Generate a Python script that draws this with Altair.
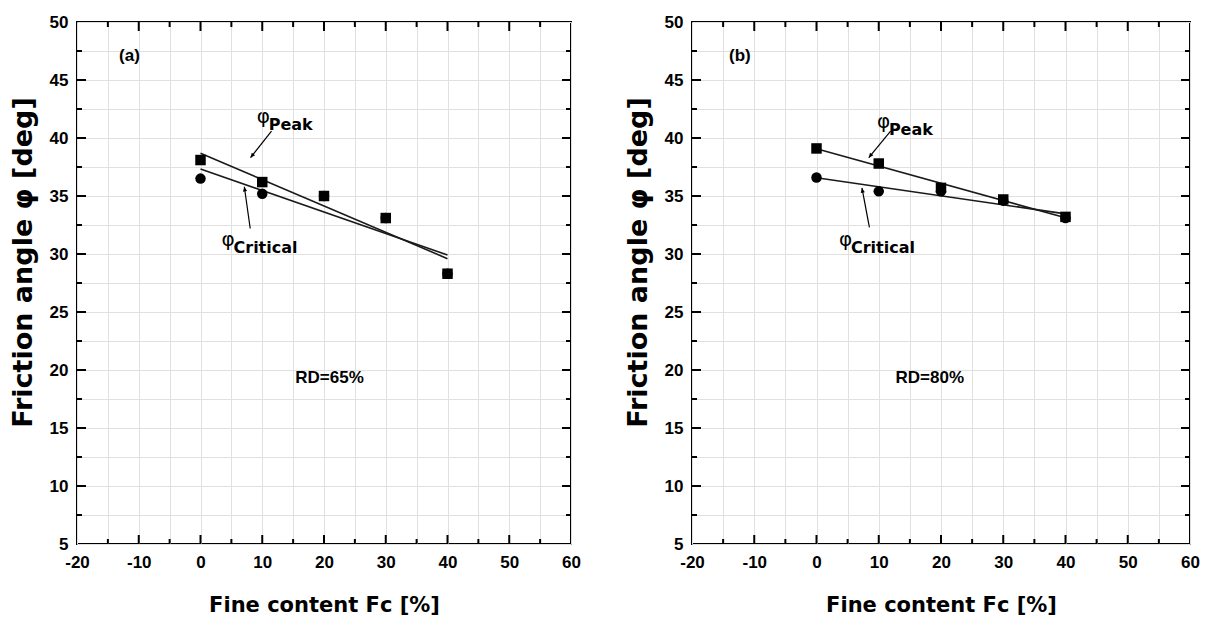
import altair as alt
import pandas as pd

# ---- data ----
fine_content = [0, 10, 20, 30, 40]
peak_a = [38.1, 36.2, 35.0, 33.1, 28.3]
critical_a = [36.5, 35.2, 35.0, 33.1, 28.3]
peak_b = [39.1, 37.8, 35.7, 34.7, 33.2]
critical_b = [36.6, 35.4, 35.4, 34.6, 33.1]

x_grid = list(range(-20, 61, 5))
y_grid = [5 + 2.5 * i for i in range(19)]
x_major_in = [v for v in x_grid if v % 10 == 0 and -20 < v < 60]
x_minor_in = [v for v in x_grid if v % 10 != 0]
y_major_in = [v for v in y_grid if v % 5 == 0 and 5 < v < 50]
y_minor_in = [v for v in y_grid if v % 5 != 0]

LABEL_FONT = "Liberation Sans"
TITLE_FONT = "DejaVu Sans"
ANN_FONT = "DejaVu Sans"


def panel(peak, crit, tag, tag_xy, rd, rd_xy, phi_peak, phi_crit, arrow_peak, arrow_crit, w, h):
    df = pd.DataFrame({"fc": fine_content, "peak": peak, "crit": crit})
    xs = alt.Scale(domain=[-20, 60], nice=False, zero=False)
    ys = alt.Scale(domain=[5, 50], nice=False, zero=False)
    xaxis = alt.Axis(
        values=x_grid, labelExpr="datum.value % 10 == 0 ? toString(datum.value) : ''",
        grid=True, gridColor="#e0e0e0", gridWidth=1, tickSize=0, domain=False,
        labelFont=LABEL_FONT, labelFontSize=17, labelFontWeight="bold", labelColor="black",
        labelPadding=10, labelFlush=False, labelOverlap=False,
        title="Fine content Fc [%]", titleFont=TITLE_FONT, titleFontSize=21,
        titleFontWeight="bold", titleColor="black", titlePadding=24,
    )
    yaxis = alt.Axis(
        values=y_grid, labelExpr="datum.value % 5 == 0 ? toString(datum.value) : ''",
        grid=True, gridColor="#e0e0e0", gridWidth=1, tickSize=0, domain=False,
        labelFont=LABEL_FONT, labelFontSize=17, labelFontWeight="bold", labelColor="black",
        labelPadding=9, labelFlush=False, labelOverlap=False,
        title="Friction angle φ [deg]", titleFont=TITLE_FONT, titleFontSize=27,
        titleFontWeight="bold", titleColor="black", titlePadding=12, titleY=240,
    )

    def X(f):
        return alt.X(f, type="quantitative", scale=xs, axis=xaxis)

    def Y(f):
        return alt.Y(f, type="quantitative", scale=ys, axis=yaxis)

    base = alt.Chart(df)
    line_p = base.transform_regression("fc", "peak").mark_line(color="#1a1a1a", strokeWidth=1.6).encode(x=X("fc"), y=Y("peak"))
    line_c = base.transform_regression("fc", "crit").mark_line(color="#1a1a1a", strokeWidth=1.6).encode(x=X("fc"), y=Y("crit"))
    circ = base.mark_point(shape="circle", filled=True, size=110, color="black", opacity=1).encode(x=X("fc"), y=Y("crit"))
    sq = base.mark_point(shape="square", filled=True, size=110, color="black", opacity=1).encode(x=X("fc"), y=Y("peak"))

    xmaj = alt.Chart(pd.DataFrame({"v": x_major_in}))
    xmin = alt.Chart(pd.DataFrame({"v": x_minor_in}))
    ymaj = alt.Chart(pd.DataFrame({"v": y_major_in}))
    ymin = alt.Chart(pd.DataFrame({"v": y_minor_in}))
    tk = dict(color="black", strokeWidth=2)
    ticks = [
        xmaj.mark_rule(**tk).encode(x=X("v"), y=alt.value(h), y2=alt.value(h - 9)),
        xmaj.mark_rule(**tk).encode(x=X("v"), y=alt.value(0), y2=alt.value(9)),
        xmin.mark_rule(**tk).encode(x=X("v"), y=alt.value(h), y2=alt.value(h - 5)),
        xmin.mark_rule(**tk).encode(x=X("v"), y=alt.value(0), y2=alt.value(5)),
        ymaj.mark_rule(**tk).encode(y=Y("v"), x=alt.value(0), x2=alt.value(9)),
        ymaj.mark_rule(**tk).encode(y=Y("v"), x=alt.value(w), x2=alt.value(w - 9)),
        ymin.mark_rule(**tk).encode(y=Y("v"), x=alt.value(0), x2=alt.value(5)),
        ymin.mark_rule(**tk).encode(y=Y("v"), x=alt.value(w), x2=alt.value(w - 5)),
    ]

    txt = pd.DataFrame({
        "x": [tag_xy[0], rd_xy[0]],
        "y": [tag_xy[1], rd_xy[1]],
        "t": [tag, rd],
    })
    labels = alt.Chart(txt).mark_text(font=LABEL_FONT, fontSize=17, fontWeight="bold", color="black").encode(
        x=X("x"), y=Y("y"), text="t:N")

    phi = pd.DataFrame({
        "x": [phi_peak[0], phi_crit[0]],
        "y": [phi_peak[1], phi_crit[1]],
        "s": ["Peak", "Critical"],
    })
    phi_txt = alt.Chart(phi).mark_text(font=ANN_FONT, fontSize=20, color="black", align="left", baseline="middle").encode(
        x=X("x"), y=Y("y"), text=alt.value("φ"))
    sub_txt = alt.Chart(phi).mark_text(font=ANN_FONT, fontSize=16, fontWeight="bold", color="black", align="left",
                                       baseline="middle", dx=12, dy=8).encode(x=X("x"), y=Y("y"), text="s:N")

    arrows = []
    for (x0, y0, x1, y1, ang) in (arrow_peak, arrow_crit):
        adf = pd.DataFrame({"x": [x0], "y": [y0], "x2": [x1], "y2": [y1]})
        ac = alt.Chart(adf)
        arrows.append(ac.mark_rule(color="black", strokeWidth=1.2).encode(
            x=X("x"), y=Y("y"), x2="x2:Q", y2="y2:Q"))
        arrows.append(ac.mark_point(shape="M0,0 L-0.45,1 L0.45,1 Z", filled=True, size=90, color="black",
                                    opacity=1, angle=ang).encode(x=X("x2"), y=Y("y2")))

    return alt.layer(line_p, line_c, circ, sq, *ticks, labels, phi_txt, sub_txt, *arrows).properties(width=w, height=h)


pa = panel(peak_a, critical_a, "(a)", (-11.5, 47.1), "RD=65%", (20.9, 19.3),
           (9.1, 41.8), (3.4, 31.2),
           (11.5, 40.6, 8.1, 38.3, 218), (8.05, 32.2, 7.1, 35.8, 352),
           494, 522)
pb = panel(peak_b, critical_b, "(b)", (-12.3, 47.1), "RD=80%", (18.2, 19.3),
           (9.7, 41.4), (3.6, 31.2),
           (11.9, 40.6, 8.4, 38.3, 218), (8.5, 32.3, 7.3, 35.7, 350),
           498, 522)

chart = alt.hconcat(pa, pb, spacing=41).properties(
    padding={"left": 8, "top": 12, "right": 10, "bottom": 5},
    background="white",
).configure_view(stroke="black", strokeWidth=2)

chart.save("out.html", embed_options={"renderer": "svg", "actions": False})
